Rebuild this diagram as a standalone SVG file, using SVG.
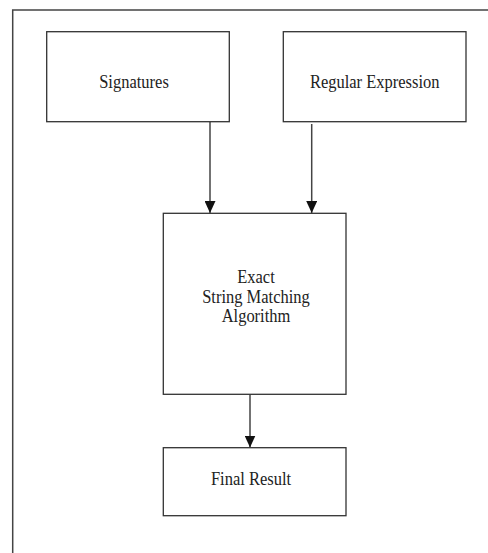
<svg xmlns="http://www.w3.org/2000/svg" width="488" height="553" viewBox="0 0 488 553">
<defs>
<style>
.box{fill:#fff;stroke:#333;stroke-width:1.3}
.frame{fill:none;stroke:#444;stroke-width:1.5}
.edge{stroke:#444;stroke-width:1.5;fill:none;marker-end:url(#ah)}
text{font-family:"Liberation Serif","Times New Roman",serif;font-size:16.5px;fill:#222;text-anchor:middle}
</style>
<marker id="ah" viewBox="0 0 12 11" refX="12" refY="5.5" markerWidth="12" markerHeight="11" markerUnits="userSpaceOnUse" orient="auto">
<path d="M0,0 L12,5.5 L0,11 z" fill="#111"/>
</marker>
</defs>
<rect width="488" height="553" fill="#fff"/>
<path class="frame" d="M12.7,553 V10 H488"/>
<g id="connectors">
<line class="edge" x1="210" y1="121.7" x2="210" y2="213"/>
<line class="edge" x1="311.7" y1="124" x2="311.7" y2="213"/>
<line class="edge" x1="250" y1="394.3" x2="250" y2="447.5"/>
</g>
<g id="signatures">
<rect class="box" x="46.7" y="31.7" width="182.6" height="90"/>
<text transform="translate(134,88) scale(1,1.15)">Signatures</text>
</g>
<g id="regex">
<rect class="box" x="283.3" y="31.7" width="182.7" height="90"/>
<text transform="translate(374.7,88) scale(1,1.15)">Regular Expression</text>
</g>
<g id="matching">
<rect class="box" x="163.3" y="213.3" width="182.7" height="181"/>
<text transform="translate(256,283) scale(1,1.15)">Exact</text>
<text transform="translate(256,302.5) scale(1,1.15)">String Matching</text>
<text transform="translate(256,322) scale(1,1.15)">Algorithm</text>
</g>
<g id="result">
<rect class="box" x="163.3" y="447.7" width="182.7" height="68"/>
<text transform="translate(251,485) scale(1,1.15)">Final Result</text>
</g>
</svg>
